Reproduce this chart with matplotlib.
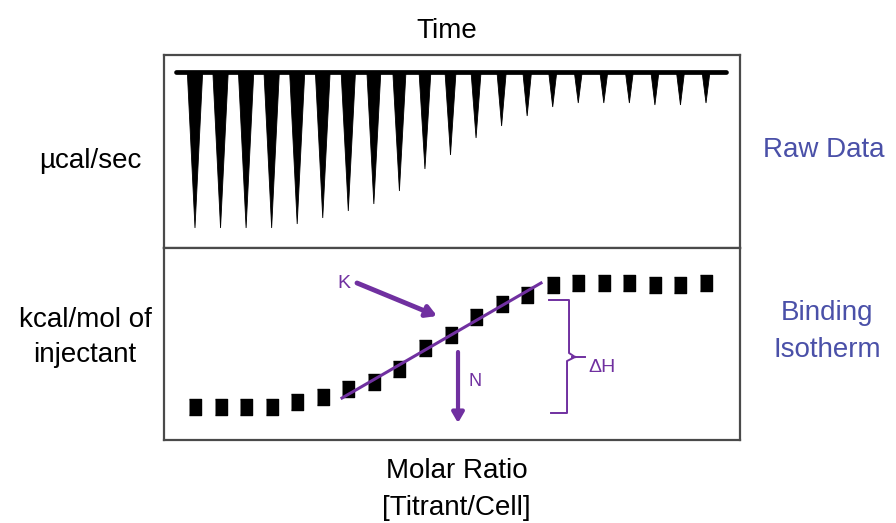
import matplotlib.pyplot as plt
from matplotlib.patches import Polygon
import numpy as np

plt.rcParams['font.family'] = ['Liberation Sans', 'DejaVu Sans']

# raw data: depth of each injection peak (ucal/sec, arbitrary units)
injection = np.arange(1, 22)
peak_depth = [15.6, 15.6, 15.6, 15.6, 15.2, 14.6, 13.9, 13.2, 11.9, 9.7, 8.3,
              6.6, 5.4, 4.4, 3.5, 3.1, 3.1, 3.1, 3.3, 3.3, 3.1]

# binding isotherm
molar_ratio = np.round(injection * 0.1, 2)
heat = [3.3, 3.3, 3.3, 3.3, 3.8, 4.3, 5.1, 5.8, 7.1, 9.2, 10.5,
        12.3, 13.6, 14.5, 15.5, 15.7, 15.7, 15.7, 15.5, 15.5, 15.7]

W, H = 896, 523
purple = '#7030a0'
blue = '#4a50a8'
border = '#4a4a4a'

fig = plt.figure(figsize=(W / 100, H / 100), dpi=100)


def fx(px):
    return px / W


def fy(py):
    return 1 - py / H


L, R = 164, 740
ax1 = fig.add_axes([fx(L), fy(248), fx(R - L), (248 - 55) / H])
ax2 = fig.add_axes([fx(L), fy(440), fx(R - L), (440 - 248) / H])

# top panel: raw thermogram
ax1.set_xlim(-0.213, 22.33)
ax1.set_ylim(-17.6, 1.7)
ax1.plot([0.256, 21.78], [0, 0], color='black', lw=3.4, solid_capstyle='round', zorder=3)
for i, d in zip(injection, peak_depth):
    w = (6 + 0.06 * d * 10) / 25.55
    ax1.add_patch(Polygon([(i - w / 2, 0), (i + w / 2, 0), (i, -d)], closed=True,
                          facecolor='black', edgecolor='black', lw=0.6))

# bottom panel: isotherm
ax2.set_xlim(-0.0213, 2.233)
ax2.set_ylim(0, 19.2)
box = [(-0.4, -0.5), (0.4, -0.5), (0.4, 0.5), (-0.4, 0.5)]
ax2.plot(molar_ratio, heat, linestyle='none', marker=box, markersize=11.5,
         color='black', zorder=2)


def d2(px, py):
    return (-0.0213 + (px - 164) / 255.5, (440 - py) / 10)


# fit line
(x0, y0), (x1, y1) = d2(342, 398), d2(541, 283)
ax2.plot([x0, x1], [y0, y1], color=purple, lw=2.2, zorder=3)

# K arrow
ax2.annotate('', xy=d2(437, 316), xytext=d2(357, 283),
             arrowprops=dict(arrowstyle='-|>,head_length=0.6,head_width=0.35',
                             color=purple, lw=3.5, shrinkA=0, shrinkB=0))
ax2.text(*d2(337, 288), 'K', color=purple, fontsize=14, ha='left', va='baseline')

# N arrow
ax2.annotate('', xy=d2(458, 423), xytext=d2(458, 352),
             arrowprops=dict(arrowstyle='-|>,head_length=0.6,head_width=0.35',
                             color=purple, lw=3, shrinkA=0, shrinkB=0))
ax2.text(*d2(468, 386), 'N', color=purple, fontsize=13, ha='left', va='baseline')

# delta H bracket
upper = [d2(549, 300), d2(569, 300), d2(569, 353), d2(575, 357)]
lower = [d2(575, 357), d2(567, 361), d2(567, 413), d2(551, 413)]
tick = [d2(572, 357), d2(585, 357)]
for seg in (upper, lower, tick):
    xs, ys = zip(*seg)
    ax2.plot(xs, ys, color=purple, lw=1.4)
ax2.text(*d2(588, 372), '\u0394H', color=purple, fontsize=14, ha='left', va='baseline')

for ax in (ax1, ax2):
    ax.set_xticks([])
    ax.set_yticks([])
    for s in ax.spines.values():
        s.set_color(border)
        s.set_linewidth(1.6)

# labels
fs = 20
fig.text(fx(447), fy(38), 'Time', fontsize=fs, ha='center', va='baseline')
fig.text(fx(90), fy(168), '\u00b5cal/sec', fontsize=fs, ha='center', va='baseline')
fig.text(fx(824), fy(157), 'Raw Data', fontsize=fs, ha='center', va='baseline', color=blue)
fig.text(fx(85), fy(327), 'kcal/mol of', fontsize=fs, ha='center', va='baseline')
fig.text(fx(85), fy(362), 'injectant', fontsize=fs, ha='center', va='baseline')
fig.text(fx(827), fy(320), 'Binding', fontsize=fs, ha='center', va='baseline', color=blue)
fig.text(fx(827), fy(357), 'Isotherm', fontsize=fs, ha='center', va='baseline', color=blue)
fig.text(fx(457), fy(478), 'Molar Ratio', fontsize=fs, ha='center', va='baseline')
fig.text(fx(456), fy(515), '[Titrant/Cell]', fontsize=fs, ha='center', va='baseline')

fig.savefig('out.png', dpi=100)
